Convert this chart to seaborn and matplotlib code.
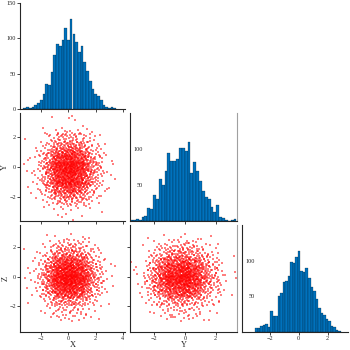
import numpy as np
import pandas as pd
import matplotlib
matplotlib.use("Agg")
import matplotlib.pyplot as plt
import seaborn as sns

# Per-bin counts of the three variables (left to right)
x_counts = [2, 3, 2, 3, 5, 8, 13, 21, 35, 34, 53, 76, 92, 89, 98, 115, 98,
            127, 106, 95, 81, 89, 67, 54, 39, 28, 21, 19, 13, 6, 3, 1, 3, 1]
y_counts = [1, 1, 3, 1, 5, 7, 18, 17, 36, 30, 58, 50, 69, 94, 83, 83, 86,
            101, 102, 97, 110, 67, 82, 69, 56, 42, 33, 30, 19, 13, 22, 6, 4,
            1, 0, 1, 3]
z_counts = [5, 6, 8, 10, 11, 7, 29, 23, 23, 50, 55, 70, 71, 79, 98, 97, 105,
            113, 85, 84, 90, 76, 63, 58, 46, 34, 27, 24, 18, 15, 8, 7, 3, 2]

# Bin ranges of each variable
x_range = (-3.3, 3.5)
y_range = (-3.6, 3.36)
z_range = (-3.0, 2.9)

variables = ["X", "Y", "Z"]
count_ticks = [0, 50, 100, 150]
inner_count_ticks = [50, 100]
x_ticks = [-2, 0, 2, 4]
y_ticks = [-2, 0, 2]
z_ticks = [-2, 0, 2]


def expand(counts, lo, hi):
    """Spread each bin's observations evenly across the bin."""
    edges = np.linspace(lo, hi, len(counts) + 1)
    vals = []
    for c, a, b in zip(counts, edges[:-1], edges[1:]):
        if c:
            vals.extend(a + (np.arange(c) + 0.5) / c * (b - a))
    return np.array(vals), edges


def radical_inverse(n, base):
    r, f = 0.0, 1.0 / base
    while n > 0:
        n, d = divmod(n, base)
        r += d * f
        f /= base
    return r


def order_by(base, n):
    keys = np.array([radical_inverse(i + 1, base) for i in range(n)])
    return np.argsort(np.argsort(keys))


xs, x_edges = expand(x_counts, *x_range)
ys, y_edges = expand(y_counts, *y_range)
zs, z_edges = expand(z_counts, *z_range)
n = len(xs)

df = pd.DataFrame({
    "X": xs[order_by(2, n)],
    "Y": ys[order_by(3, n)],
    "Z": zs[order_by(5, n)],
})

sns.set_style("ticks")
plt.rcParams["font.family"] = ["Liberation Serif", "DejaVu Serif"]

fig = plt.figure(figsize=(3.5, 3.5), dpi=100)
W = H = 350.0


def add_ax(left, top, right, bottom):
    return fig.add_axes([left / W, 1 - bottom / H, (right - left) / W,
                         (bottom - top) / H])


cols = [(20, 125), (130, 237), (242, 348)]
rows = [(3, 109), (113, 221), (225, 332)]
lims = {"X": (-3.55, 4.15), "Y": (-3.6, 3.4), "Z": (-3.9, 3.4)}
row_lims = {"Y": (-3.55, 3.55), "Z": (-3.73, 3.47)}
ticks = {"X": x_ticks, "Y": y_ticks, "Z": z_ticks}
edges = {"X": x_edges, "Y": y_edges, "Z": z_edges}

hist_color = "#0072BD"
tick_kw = dict(labelsize=4.5, length=2, width=0.6, pad=1)

axes = {}
for i in range(3):
    for j in range(i + 1):
        ax = add_ax(cols[j][0], rows[i][0], cols[j][1], rows[i][1])
        axes[i, j] = ax
        for s in ax.spines.values():
            s.set_linewidth(0.8)
        ax.spines["top"].set_visible(False)
        ax.spines["right"].set_visible(False)
        xv, yv = variables[j], variables[i]
        if i == j:
            sns.histplot(data=df, x=xv, bins=edges[xv], ax=ax,
                         color=hist_color, edgecolor="black", linewidth=0.15,
                         alpha=1)
            ax.set_ylim(0, 150)
            if i == 0:
                ax.set_yticks(count_ticks)
                ax.tick_params(axis="y", **tick_kw)
            else:
                ax.set_yticks(inner_count_ticks)
                ax.tick_params(axis="y", labelsize=4.5, length=0, pad=-9)
        else:
            sns.scatterplot(data=df, x=xv, y=yv, ax=ax, color="red", s=2,
                            marker="s", linewidth=0, alpha=0.5)
            ax.set_ylim(*row_lims[yv])
            ax.set_yticks(ticks[yv])
            ax.tick_params(axis="y", labelleft=(j == 0), **tick_kw)
        ax.set_xlim(*lims[xv])
        ax.set_xticks(ticks[xv])
        ax.tick_params(axis="x", labelbottom=(i == 2), **tick_kw)
        ax.set_xlabel(xv if (i == 2 and j < 2) else "", fontsize=6,
                      labelpad=0)
        ax.set_ylabel(yv if (j == 0 and i > 0) else "", fontsize=6,
                      labelpad=0)
        if j == 1:
            ax.spines["right"].set_visible(True)
            ax.spines["right"].set_color("#a0a0a0")

fig.savefig("out.png", dpi=100)
